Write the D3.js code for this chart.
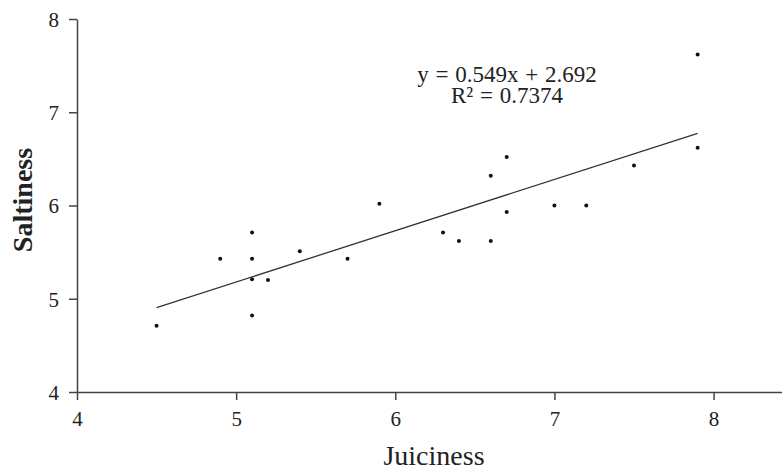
<!DOCTYPE html>
<html>
<head>
<meta charset="utf-8">
<script src="https://cdn.jsdelivr.net/npm/d3@7"></script>
<style>
  body { margin: 0; background: #fff; }
  text { font-family: "Liberation Serif", "Times New Roman", serif; fill: #222; }
</style>
</head>
<body>
<script>
// juiciness (x) and saltiness (y) of each sample
var juiciness = [4.5, 4.9, 5.1, 5.1, 5.1, 5.1, 5.2, 5.4, 5.7, 5.9, 6.3, 6.4, 6.6, 6.6, 6.7, 6.7, 7.0, 7.2, 7.5, 7.9, 7.9];
var saltiness = [4.71, 5.43, 5.71, 5.43, 5.21, 4.82, 5.2, 5.51, 5.43, 6.02, 5.71, 5.62, 5.62, 6.32, 6.52, 5.93, 6.0, 6.0, 6.43, 7.62, 6.62];
var xTicks = [4, 5, 6, 7, 8];
var yTicks = [4, 5, 6, 7, 8];
var eqLines = ["y = 0.549x + 2.692", "R\u00b2 = 0.7374"];

var width = 782, height = 471;

var x = d3.scaleLinear().domain([4, 8.43]).range([77, 782]);
var y = d3.scaleLinear().domain([4, 8]).range([392, 19]);

var svg = d3.select("body").append("svg").attr("width", width).attr("height", height);

// least squares line through the points
var n = juiciness.length;
var mx = d3.mean(juiciness), my = d3.mean(saltiness);
var sxy = 0, sxx = 0;
for (var i = 0; i < n; i++) {
  sxy += (juiciness[i] - mx) * (saltiness[i] - my);
  sxx += (juiciness[i] - mx) * (juiciness[i] - mx);
}
var slope = sxy / sxx, icpt = my - slope * mx;
var x0 = d3.min(juiciness), x1 = d3.max(juiciness);

svg.append("line")
  .attr("x1", x(x0)).attr("y1", y(slope * x0 + icpt))
  .attr("x2", x(x1)).attr("y2", y(slope * x1 + icpt))
  .attr("stroke", "#333")
  .attr("stroke-width", 1.3);

svg.selectAll("circle")
  .data(juiciness)
  .enter()
  .append("circle")
  .attr("cx", function (d) { return x(d); })
  .attr("cy", function (d, i) { return y(saltiness[i]); })
  .attr("r", 2)
  .attr("fill", "#111");

var fmt = d3.format("d");
var gx = svg.append("g")
  .attr("transform", "translate(0," + y(4) + ")")
  .call(d3.axisBottom(x).tickValues(xTicks).tickFormat(fmt).tickSize(8).tickSizeOuter(0).tickPadding(11));
var gy = svg.append("g")
  .attr("transform", "translate(" + x(4) + ",0)")
  .call(d3.axisLeft(y).tickValues(yTicks).tickFormat(fmt).tickSize(8).tickSizeOuter(0).tickPadding(10));

[gx, gy].forEach(function (g) {
  g.attr("font-family", "Liberation Serif");
  g.select(".domain").attr("stroke", "#444").attr("stroke-width", 1.5);
  g.selectAll(".tick line").attr("stroke", "#444").attr("stroke-width", 1.5);
  g.selectAll(".tick text").attr("font-size", 21).attr("fill", "#222");
});
gy.selectAll(".tick text").attr("dy", "0.35em");

svg.append("text")
  .attr("x", 434)
  .attr("y", 465)
  .attr("text-anchor", "middle")
  .attr("font-size", 28)
  .text("Juiciness");

svg.append("text")
  .attr("transform", "translate(32,200) rotate(-90)")
  .attr("text-anchor", "middle")
  .attr("font-size", 28)
  .attr("font-weight", "bold")
  .text("Saltiness");

svg.append("g")
  .selectAll("text")
  .data(eqLines)
  .enter()
  .append("text")
  .attr("x", 507)
  .attr("y", function (d, i) { return 82 + i * 21; })
  .attr("text-anchor", "middle")
  .attr("font-size", 23)
  .attr("word-spacing", 1)
  .text(function (d) { return d; });
</script>
</body>
</html>
